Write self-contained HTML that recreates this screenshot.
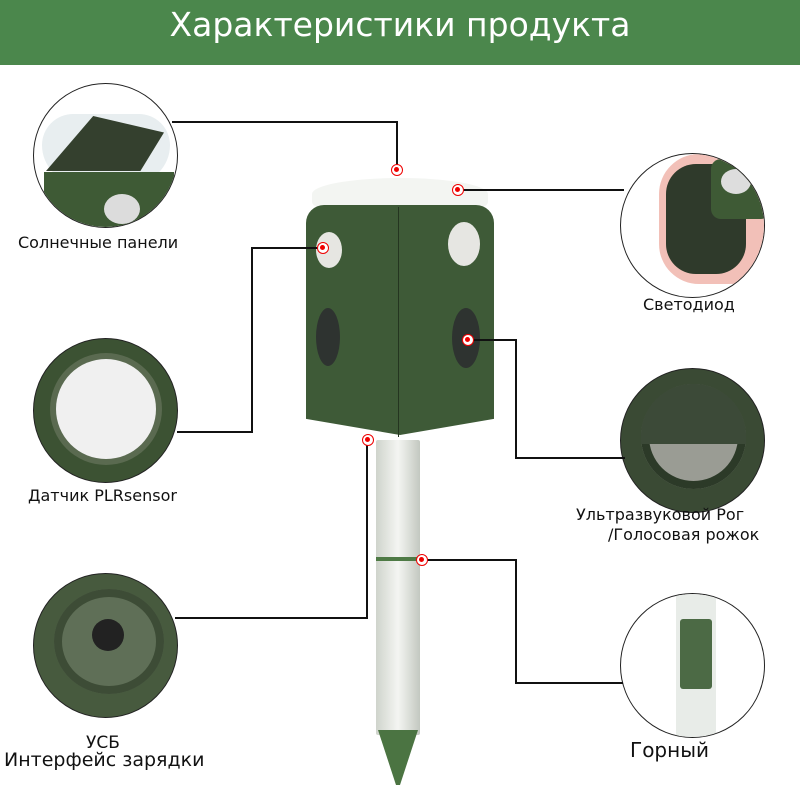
<!DOCTYPE html>
<html><head><meta charset="utf-8"><style>
body{margin:0;width:800px;height:800px;background:#fff;position:relative;overflow:hidden;font-family:"DejaVu Sans","Liberation Sans",sans-serif}
.hdr{position:absolute;left:0;top:0;width:800px;height:65px;background:#4b874c;color:#fff;font-size:33px;text-align:center;line-height:50px}
.c{position:absolute;border-radius:50%;border:1.5px solid #222;overflow:hidden;box-sizing:border-box}
.l{position:absolute;background:#111}
.t{position:absolute;font-size:16px;color:#111;white-space:nowrap}
.m{position:absolute;width:12px;height:12px;border:1.5px solid #e00;border-radius:50%;box-sizing:border-box;background:#fff}
.m:after{content:"";position:absolute;left:2px;top:2px;width:5px;height:5px;border-radius:50%;background:#e00}
</style></head><body>
<div class="hdr">Характеристики продукта</div>

<div class="c" style="left:33px;top:83px;width:145px;height:145px;background:#fff">
 <div style="position:absolute;left:8px;top:30px;width:128px;height:70px;background:#e8eef0;border-radius:40px 40px 50px 50px"></div>
 <div style="position:absolute;left:12px;top:32px;width:118px;height:55px;background:#34402e;clip-path:polygon(0 100%,40% 0,100% 30%,80% 100%)"></div>
 <div style="position:absolute;left:10px;top:88px;width:130px;height:60px;background:#3e5a35"></div>
 <div style="position:absolute;left:70px;top:110px;width:36px;height:30px;border-radius:50%;background:#dcdcdc"></div>
</div>
<div class="c" style="left:33px;top:338px;width:145px;height:145px;background:#3c5233">
 <div style="position:absolute;left:22px;top:20px;width:100px;height:100px;border-radius:50%;background:#f0f0f0;box-shadow:0 0 0 6px #5a6a50"></div>
</div>
<div class="c" style="left:33px;top:573px;width:145px;height:145px;background:#475a3e">
 <div style="position:absolute;left:20px;top:15px;width:110px;height:105px;border-radius:50%;background:#5f6f57;box-shadow:inset 0 0 0 8px #3d4c36"></div>
 <div style="position:absolute;left:58px;top:45px;width:32px;height:32px;border-radius:50%;background:#222"></div>
</div>
<div class="c" style="left:620px;top:153px;width:145px;height:145px;background:#fff">
 <div style="position:absolute;left:38px;top:0px;width:110px;height:130px;background:#f2c0b8;border-radius:40px"></div>
 <div style="position:absolute;left:45px;top:10px;width:80px;height:110px;background:#2f3a2b;border-radius:30px 10px 30px 30px"></div>
 <div style="position:absolute;left:90px;top:5px;width:60px;height:60px;background:#3e5a35;border-radius:10px"></div>
 <div style="position:absolute;left:100px;top:15px;width:30px;height:25px;border-radius:50%;background:#ddd"></div>
</div>
<div class="c" style="left:620px;top:368px;width:145px;height:145px;background:#3a4a34">
 <div style="position:absolute;left:20px;top:15px;width:105px;height:105px;border-radius:50%;background:#9a9c94;box-shadow:inset 0 0 0 8px #2c3a28"></div>
 <div style="position:absolute;left:20px;top:15px;width:105px;height:60px;background:#3c4a38;border-radius:52px 52px 0 0"></div>
</div>
<div class="c" style="left:620px;top:593px;width:145px;height:145px;background:#fff">
 <div style="position:absolute;left:55px;top:0;width:40px;height:145px;background:#e8ece8"></div>
 <div style="position:absolute;left:59px;top:25px;width:32px;height:70px;background:#4c6a45;border-radius:3px"></div>
</div>

<div style="position:absolute;left:312px;top:178px;width:176px;height:40px;background:#f3f5f2;border-radius:50%/40%"></div>
<div style="position:absolute;left:306px;top:205px;width:188px;height:230px;background:#3e5a37;border-radius:18px 18px 6px 6px;clip-path:polygon(0 0,100% 0,100% 93%,50% 100%,0 93%)"></div>
<div style="position:absolute;left:398px;top:207px;width:1px;height:230px;background:#243520"></div>
<div style="position:absolute;left:316px;top:232px;width:26px;height:36px;border-radius:50%;background:#e6e6e2"></div>
<div style="position:absolute;left:448px;top:222px;width:32px;height:44px;border-radius:50%;background:#e6e6e2"></div>
<div style="position:absolute;left:316px;top:308px;width:24px;height:58px;border-radius:50%;background:#2e3330"></div>
<div style="position:absolute;left:452px;top:308px;width:28px;height:60px;border-radius:50%;background:#2e3330"></div>
<div style="position:absolute;left:376px;top:440px;width:44px;height:295px;background:linear-gradient(90deg,#cfd4cc,#f4f5f2 50%,#c3c8c0);border-radius:2px"></div>
<div style="position:absolute;left:376px;top:557px;width:44px;height:4px;background:#4e7a45"></div>
<div style="position:absolute;left:378px;top:730px;width:40px;height:55px;background:#4b7442;clip-path:polygon(0 0,100% 0,55% 100%,45% 100%)"></div>

<div class="l" style="left:172px;top:121px;width:226px;height:2px"></div>
<div class="l" style="left:396px;top:121px;width:2px;height:48px"></div>
<div class="l" style="left:458px;top:189px;width:166px;height:2px"></div>
<div class="l" style="left:252px;top:247px;width:71px;height:2px"></div>
<div class="l" style="left:251px;top:247px;width:2px;height:186px"></div>
<div class="l" style="left:177px;top:431px;width:76px;height:2px"></div>
<div class="l" style="left:468px;top:339px;width:49px;height:2px"></div>
<div class="l" style="left:515px;top:339px;width:2px;height:120px"></div>
<div class="l" style="left:515px;top:457px;width:110px;height:2px"></div>
<div class="l" style="left:366px;top:440px;width:2px;height:179px"></div>
<div class="l" style="left:175px;top:617px;width:193px;height:2px"></div>
<div class="l" style="left:422px;top:559px;width:95px;height:2px"></div>
<div class="l" style="left:515px;top:559px;width:2px;height:125px"></div>
<div class="l" style="left:515px;top:682px;width:108px;height:2px"></div>

<div class="m" style="left:391px;top:164px"></div>
<div class="m" style="left:452px;top:184px"></div>
<div class="m" style="left:317px;top:242px"></div>
<div class="m" style="left:462px;top:334px"></div>
<div class="m" style="left:362px;top:434px"></div>
<div class="m" style="left:416px;top:554px"></div>

<div class="t" style="left:18px;top:233px">Солнечные панели</div>
<div class="t" style="left:28px;top:486px">Датчик PLRsensor</div>
<div class="t" style="left:86px;top:733px;font-size:17px">УСБ</div>
<div class="t" style="left:4px;top:749px;font-size:19px">Интерфейс зарядки</div>
<div class="t" style="left:643px;top:295px">Светодиод</div>
<div class="t" style="left:576px;top:505px">Ультразвуковой Рог</div>
<div class="t" style="left:608px;top:525px">/Голосовая рожок</div>
<div class="t" style="left:630px;top:738px;font-size:20px">Горный</div>
</body></html>
